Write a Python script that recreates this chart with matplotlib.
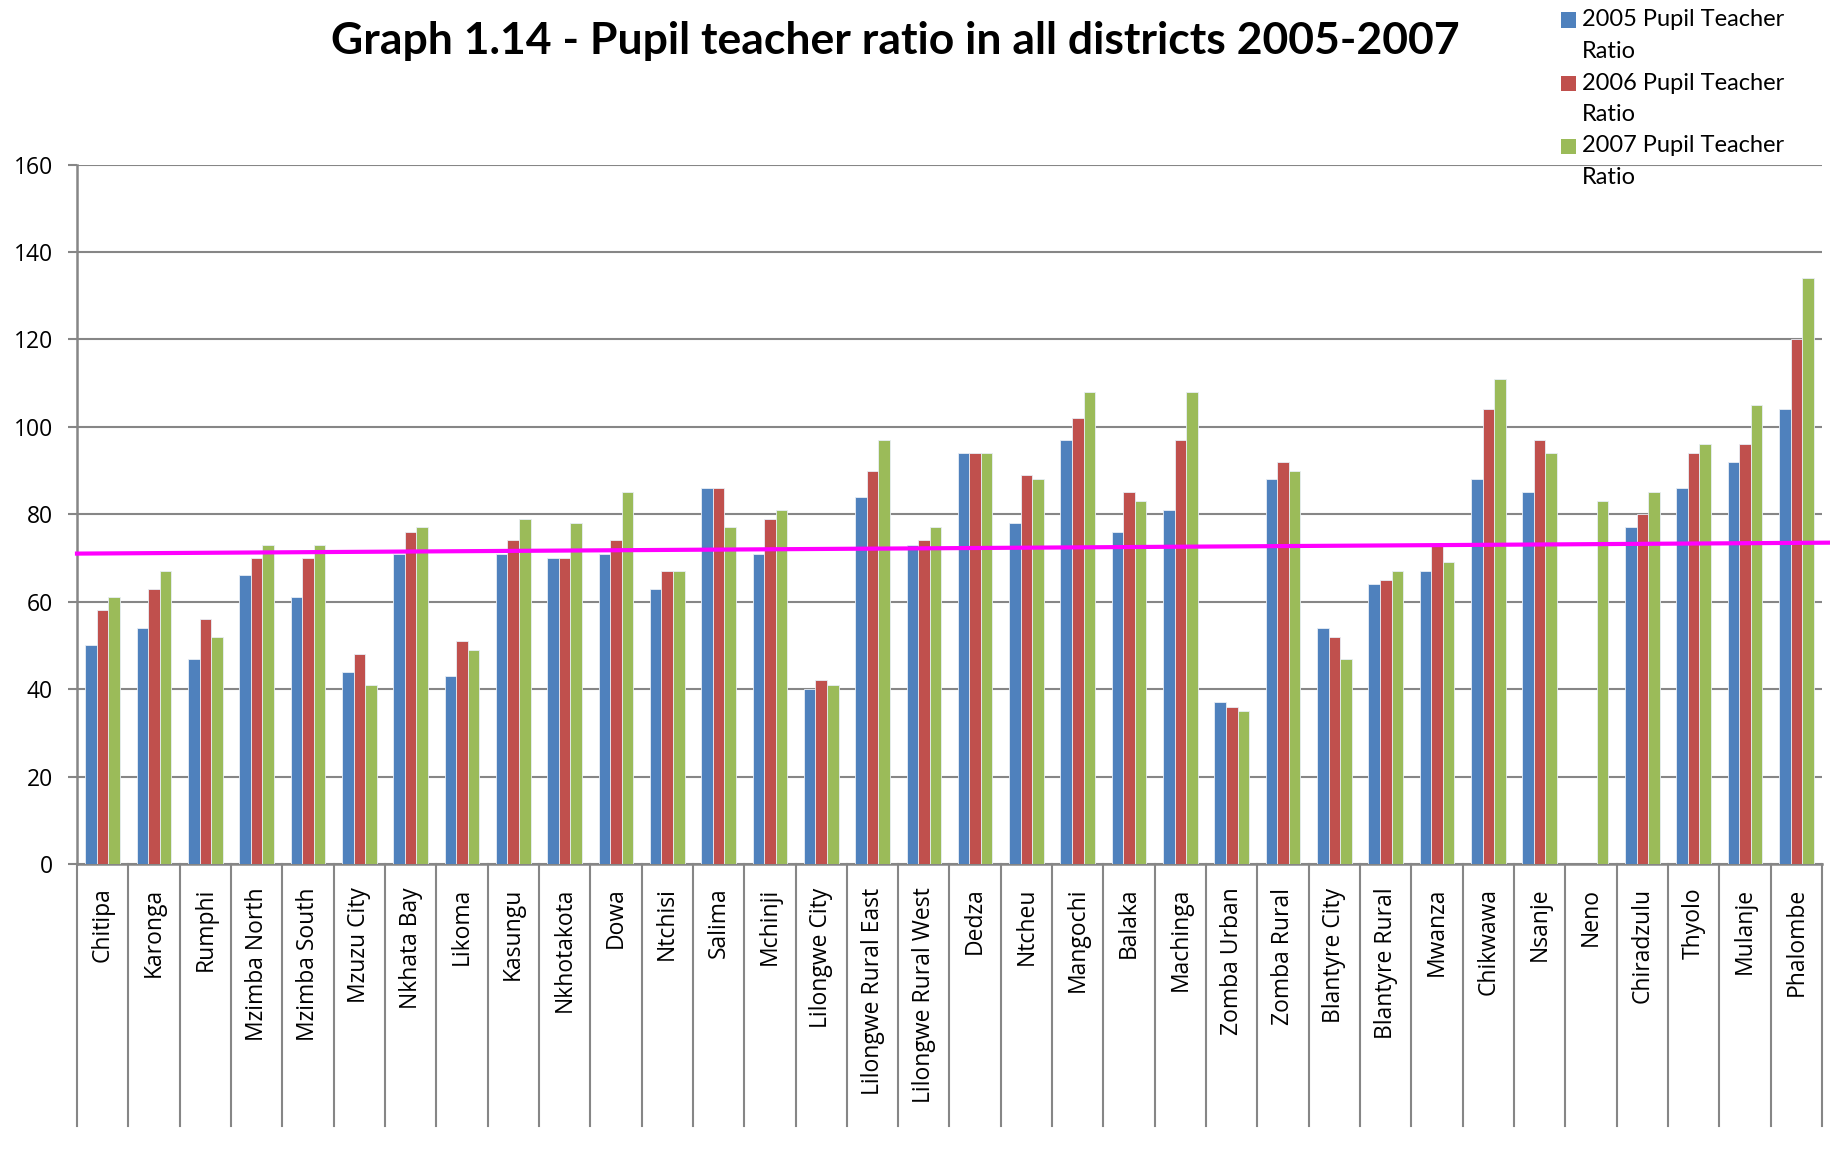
import numpy as np
import matplotlib
matplotlib.use("Agg")
import matplotlib.pyplot as plt
from matplotlib.patches import Rectangle
from matplotlib.transforms import blended_transform_factory

districts = ["Chitipa", "Karonga", "Rumphi", "Mzimba North", "Mzimba South", "Mzuzu City",
             "Nkhata Bay", "Likoma", "Kasungu", "Nkhotakota", "Dowa", "Ntchisi", "Salima",
             "Mchinji", "Lilongwe City", "Lilongwe Rural East", "Lilongwe Rural West", "Dedza",
             "Ntcheu", "Mangochi", "Balaka", "Machinga", "Zomba Urban", "Zomba Rural",
             "Blantyre City", "Blantyre Rural", "Mwanza", "Chikwawa", "Nsanje", "Neno",
             "Chiradzulu", "Thyolo", "Mulanje", "Phalombe"]

ptr_2005 = [50, 54, 47, 66, 61, 44, 71, 43, 71, 70, 71, 63, 86, 71, 40, 84, 73, 94, 78, 97,
            76, 81, 37, 88, 54, 64, 67, 88, 85, np.nan, 77, 86, 92, 104]
ptr_2006 = [58, 63, 56, 70, 70, 48, 76, 51, 74, 70, 74, 67, 86, 79, 42, 90, 74, 94, 89, 102,
            85, 97, 36, 92, 52, 65, 73, 104, 97, np.nan, 80, 94, 96, 120]
ptr_2007 = [61, 67, 52, 73, 73, 41, 77, 49, 79, 78, 85, 67, 77, 81, 41, 97, 77, 94, 88, 108,
            83, 108, 35, 90, 47, 67, 69, 111, 94, 83, 85, 96, 105, 134]

series_labels = ["2005 Pupil Teacher\nRatio", "2006 Pupil Teacher\nRatio", "2007 Pupil Teacher\nRatio"]
series_colors = ["#4F81BD", "#C0504D", "#9BBB59"]

# linear trendline (value at left and right edges of plot)
trend_start = 71.0
trend_end = 73.5

y_ticks = [0, 20, 40, 60, 80, 100, 120, 140, 160]
title = "Graph 1.14 - Pupil teacher ratio in all districts 2005-2007"

W, H = 1830, 1154
fig = plt.figure(figsize=(W / 100, H / 100), dpi=100)
left_px, right_px, top_px, bot_px = 77, 1822, 164.5, 864
ax = fig.add_axes([left_px / W, 1 - bot_px / H, (right_px - left_px) / W, (bot_px - top_px) / H])

grid_c = "#868686"
n = len(districts)
x = np.arange(n)
bw = 0.225
for i, (vals, col) in enumerate(zip([ptr_2005, ptr_2006, ptr_2007], series_colors)):
    ax.bar(x + (i - 1) * bw, vals, width=bw, color=col, edgecolor="#e8eef6", linewidth=0.6, zorder=3)

ax.set_xlim(-0.5, n - 0.5)
ax.set_ylim(0, 160)
ax.set_yticks(y_ticks)
ax.set_yticklabels([str(v) for v in y_ticks], fontsize=16.5, family="Open Sans")
ax.tick_params(axis="y", length=6.5, width=1.5, color=grid_c, pad=11)
ax.yaxis.grid(True, color=grid_c, linewidth=1.5, zorder=0)
ax.set_axisbelow(True)

ax.set_xticks(x)
ax.set_xticklabels(districts, rotation=90, fontsize=16.5, family="Open Sans", va="top")
ax.tick_params(axis="x", length=0, pad=17)

for s in ["top", "right"]:
    ax.spines[s].set_visible(False)
for s in ["left", "bottom"]:
    ax.spines[s].set_color(grid_c)
    ax.spines[s].set_linewidth(1.8)

# category divider lines extending below the axis
trans = blended_transform_factory(ax.transData, ax.transAxes)
div_bottom = -(1126 - bot_px) / (bot_px - top_px)
for k in range(n + 1):
    ax.plot([k - 0.5, k - 0.5], [0, div_bottom], color=grid_c, linewidth=1.5,
            transform=trans, clip_on=False, zorder=2)

# trendline
ax.plot([-0.5, n - 0.5 + 0.15], [trend_start, trend_end], color="#FF00FF", linewidth=3,
        zorder=5, clip_on=False)

fig.text(895 / W, 1 - 41 / H, title, fontsize=32, fontweight="bold", family="Lato",
         ha="center", va="center")

# legend
line_h = 31.5
for i, (lab, col) in enumerate(zip(series_labels, series_colors)):
    y0 = 20 + i * 2 * line_h
    fig.patches.append(Rectangle((1561 / W, 1 - (y0 + 7.5) / H), 15 / W, 15 / H,
                                 transform=fig.transFigure, facecolor=col, edgecolor="none"))
    for j, part in enumerate(lab.split("\n")):
        fig.text(1582 / W, 1 - (y0 + j * line_h) / H, part, fontsize=17, family="Lato",
                 ha="left", va="center")

fig.savefig("out.png", dpi=100)
